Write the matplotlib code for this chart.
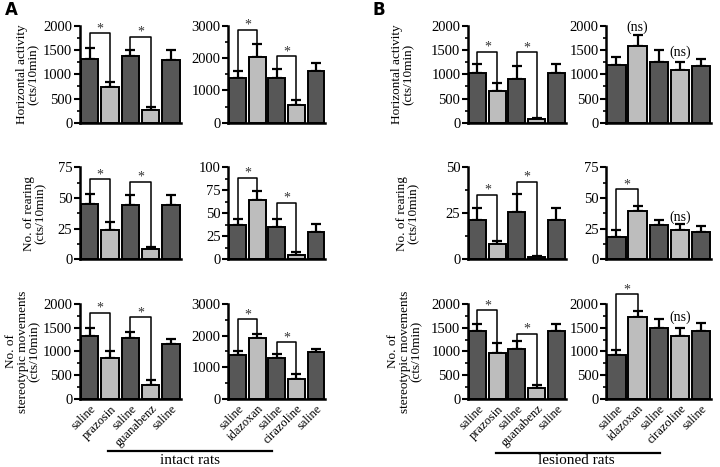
import numpy as np
import matplotlib
matplotlib.use("Agg")
import matplotlib.pyplot as plt
from matplotlib.ticker import MultipleLocator, AutoMinorLocator
from matplotlib.lines import Line2D

plt.rcParams['font.family'] = ['Liberation Serif', 'DejaVu Serif']

# labels
drugs_1 = ["saline", "prazosin", "saline", "guanabenz", "saline"]
drugs_2 = ["saline", "idazoxan", "saline", "cirazoline", "saline"]

# Horizontal activity
hor_intact_1 = [1320, 730, 1380, 260, 1290]
hor_intact_1_err = [220, 110, 120, 70, 200]
hor_intact_2 = [1390, 2030, 1370, 540, 1610]
hor_intact_2_err = [210, 390, 290, 180, 240]
hor_les_1 = [1020, 650, 910, 80, 1020]
hor_les_1_err = [190, 170, 250, 20, 190]
hor_les_2 = [1200, 1580, 1250, 1080, 1160]
hor_les_2_err = [150, 220, 250, 180, 150]

# Rearing
rear_intact_1 = [45, 24, 44, 8, 44]
rear_intact_1_err = [8, 6, 8, 2, 8]
rear_intact_2 = [37, 64, 35, 5, 30]
rear_intact_2_err = [7, 10, 9, 3, 8]
rear_les_1 = [21.5, 8, 25.5, 1, 21.5]
rear_les_1_err = [6.5, 2, 10, 1, 6.5]
rear_les_2 = [18, 39, 28, 24, 22]
rear_les_2_err = [6, 4, 4, 5, 5]

# Stereotypic movements
ster_intact_1 = [1330, 870, 1280, 300, 1150]
ster_intact_1_err = [170, 130, 120, 90, 120]
ster_intact_2 = [1400, 1930, 1280, 620, 1490]
ster_intact_2_err = [100, 130, 140, 180, 90]
ster_les_1 = [1430, 970, 1050, 230, 1430]
ster_les_1_err = [150, 200, 180, 70, 150]
ster_les_2 = [920, 1730, 1490, 1320, 1430]
ster_les_2_err = [100, 120, 190, 170, 170]

# brackets (bar i, bar j, height) and "(ns)" marks (bar, y)
brk = [
    [[(0, 1, 1850), (2, 3, 1770)], [(0, 1, 2880), (2, 3, 2060)],
     [(0, 1, 1460), (2, 3, 1450)], []],
    [[(0, 1, 65), (2, 3, 63)], [(0, 1, 88.5), (2, 3, 61.6)],
     [(0, 1, 35), (2, 3, 42)], [(0, 1, 57)]],
    [[(0, 1, 1817), (2, 3, 1720)], [(0, 1, 2516), (2, 3, 1790)],
     [(0, 1, 1872), (2, 3, 1374)], [(0, 1, 2210)]],
]
ns_marks = [
    [[], [], [], [(1, 1960), (3, 1450)]],
    [[], [], [], [(3, 34.4)]],
    [[], [], [], [(3, 1716)]],
]

means = [
    [hor_intact_1, hor_intact_2, hor_les_1, hor_les_2],
    [rear_intact_1, rear_intact_2, rear_les_1, rear_les_2],
    [ster_intact_1, ster_intact_2, ster_les_1, ster_les_2],
]
errs = [
    [hor_intact_1_err, hor_intact_2_err, hor_les_1_err, hor_les_2_err],
    [rear_intact_1_err, rear_intact_2_err, rear_les_1_err, rear_les_2_err],
    [ster_intact_1_err, ster_intact_2_err, ster_les_1_err, ster_les_2_err],
]
ylims = [[2000, 3000, 2000, 2000], [75, 100, 50, 75], [2000, 3000, 2000, 2000]]
ysteps = [[500, 1000, 500, 500], [25, 25, 25, 25], [500, 1000, 500, 500]]
ylabels = ["Horizontal activity\n(cts/10min)",
           "No. of rearing\n(cts/10min)",
           "No. of\nstereotypic movements\n(cts/10min)"]
# ylabel x (axes fraction) for group A / group B
label_x_A = [-0.40, -0.33, -0.39]
label_x_B = [-0.54, -0.49, -0.46]

dark = "#575757"
light = "#bdbdbd"
colors = [dark, light, dark, light, dark]

fig = plt.figure(figsize=(7.2, 4.67), dpi=100)

lefts = [0.111, 0.317, 0.650, 0.842]
widths = [0.140, 0.135, 0.136, 0.146]
bottoms = [0.737, 0.445, 0.146]
heights = [0.208, 0.197, 0.203]

for r in range(3):
    for c in range(4):
        ax = fig.add_axes([lefts[c], bottoms[r], widths[c], heights[r]])
        m = np.array(means[r][c], dtype=float)
        e = np.array(errs[r][c], dtype=float)
        x = np.arange(5)
        ax.errorbar(x, m, yerr=[np.zeros(5), e], fmt='none', ecolor='black',
                    elinewidth=1.6, capsize=3.5, capthick=1.6, zorder=1)
        ax.bar(x, m, width=0.86, color=colors, edgecolor='black',
               linewidth=1.4, zorder=2)
        ax.set_xlim(-0.48, 4.48)
        ax.set_ylim(0, ylims[r][c])
        ax.yaxis.set_major_locator(MultipleLocator(ysteps[r][c]))
        ax.yaxis.set_minor_locator(AutoMinorLocator(2))
        for s in ['top', 'right']:
            ax.spines[s].set_visible(False)
        for s in ['left', 'bottom']:
            ax.spines[s].set_linewidth(1.8)
        ax.tick_params(axis='y', which='major', length=4, width=1.5,
                       labelsize=10.5, pad=1.5)
        ax.tick_params(axis='y', which='minor', length=2.5, width=1.2)
        ax.tick_params(axis='x', length=0, pad=3)
        if r == 2:
            ax.set_xticks(x)
            ax.set_xticklabels(drugs_1 if c % 2 == 0 else drugs_2,
                               rotation=45, ha='right', rotation_mode='anchor',
                               fontsize=9)
        else:
            ax.set_xticks([])
        top = m + e
        for (i, j, h) in brk[r][c]:
            ax.plot([i, i, j, j], [top[i], h, h, top[j]], color='black',
                    lw=1.1, clip_on=False, zorder=3)
            ax.annotate("*", xy=((i + j) / 2, h), xytext=(0, -1.5),
                        textcoords='offset points', ha='center', va='bottom',
                        fontsize=10, color='#333333', annotation_clip=False)
        for (i, y) in ns_marks[r][c]:
            ax.text(i, y, "(ns)", ha='center', va='center', fontsize=10,
                    clip_on=False)
        if c in (0, 2):
            ax.set_ylabel(ylabels[r], fontsize=9.5, linespacing=1.0)
            lx = label_x_A[r] if c == 0 else label_x_B[r]
            ax.yaxis.set_label_coords(lx, 0.5)

# group lines
fig.add_artist(Line2D([108 / 720, 272 / 720], [1 - 451 / 467] * 2,
                      color='black', lw=1.6))
fig.text(190 / 720, 1 - 460 / 467, "intact rats", ha='center', va='center',
         fontsize=11)
fig.add_artist(Line2D([496 / 720, 660 / 720], [1 - 453 / 467] * 2,
                      color='black', lw=1.6))
fig.text(576 / 720, 1 - 461 / 467, "lesioned rats", ha='center', va='center',
         fontsize=11)

fig.text(5 / 720, 1 - 10 / 467, "A", fontsize=12, fontweight='bold',
         family='DejaVu Sans', va='center')
fig.text(372 / 720, 1 - 10 / 467, "B", fontsize=12, fontweight='bold',
         family='DejaVu Sans', va='center')

fig.savefig("out.png", dpi=100)
